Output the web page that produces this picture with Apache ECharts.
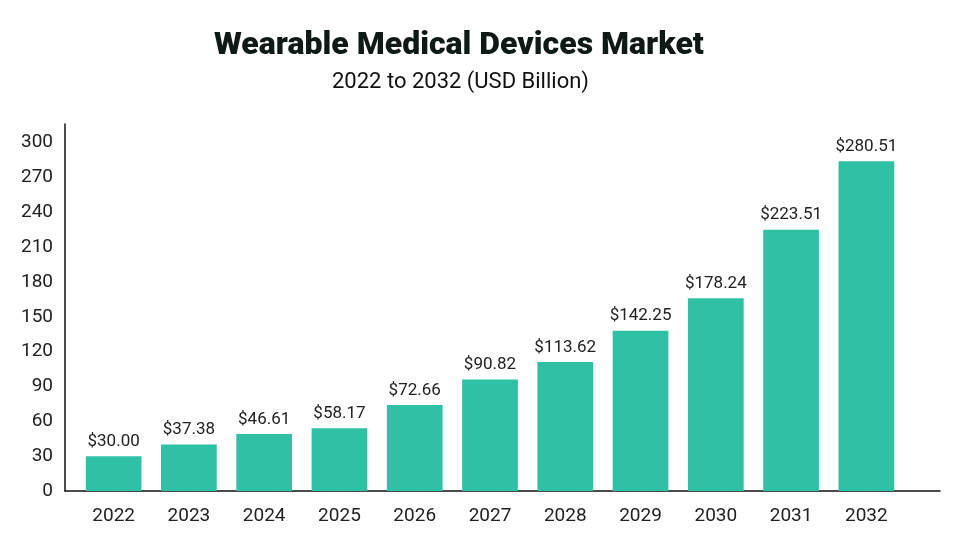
<!DOCTYPE html>
<html>
<head>
<meta charset="utf-8">
<script src="https://cdn.jsdelivr.net/npm/echarts@6/dist/echarts.min.js"></script>
<style>html,body{margin:0;padding:0;background:#fff}#c{width:960px;height:558px}</style>
</head>
<body>
<div id="c"></div>
<script>
const categories = ['2022','2023','2024','2025','2026','2027','2028','2029','2030','2031','2032'];
const barValues = [30, 40, 49, 54, 74, 96, 111, 138, 166, 225, 284];
const labelTexts = ['$30.00','$37.38','$46.61','$58.17','$72.66','$90.82','$113.62','$142.25','$178.24','$223.51','$280.51'];
const yTicks = [0, 30, 60, 90, 120, 150, 180, 210, 240, 270, 300];

const chart = echarts.init(document.getElementById('c'));
const font = 'Roboto';
const yMax = 316;
chart.setOption({
  backgroundColor: '#fff',
  animation: false,
  title: [
    { text: 'Wearable Medical Devices Market', left: 209, top: 25,
      textStyle: { fontFamily: font, fontWeight: 900, fontSize: 32, color: '#0f1a17' } },
    { text: '2022 to 2032 (USD Billion)', left: 327, top: 66,
      textStyle: { fontFamily: font, fontWeight: 400, fontSize: 22, color: '#111' } }
  ],
  grid: [
    { left: 76, right: 56, top: 124, bottom: 67 },
    { left: 65, right: 20, top: 124, bottom: 67 }
  ],
  xAxis: [
    { type: 'category', gridIndex: 0, data: categories,
      axisLine: { show: false }, axisTick: { show: false },
      axisLabel: { fontFamily: font, fontSize: 19, color: '#222', margin: 16 } },
    { type: 'value', gridIndex: 1, min: 0, max: 1,
      axisLine: { show: true, lineStyle: { color: '#111', width: 1.5 } },
      axisTick: { show: false }, axisLabel: { show: false }, splitLine: { show: false } }
  ],
  yAxis: [
    { type: 'value', gridIndex: 0, min: 0, max: yMax, interval: 30,
      axisLine: { show: false }, axisTick: { show: false },
      axisLabel: { show: false }, splitLine: { show: false } },
    { type: 'value', gridIndex: 1, min: 0, max: yMax, interval: 30,
      axisLine: { show: true, lineStyle: { color: '#111', width: 1.5 } },
      axisTick: { show: false }, splitLine: { show: false },
      axisLabel: { fontFamily: font, fontSize: 19, color: '#222', margin: 12,
        showMaxLabel: false,
        formatter: v => yTicks.indexOf(v) >= 0 ? String(v) : '' } }
  ],
  series: [{
    type: 'bar', xAxisIndex: 0, yAxisIndex: 0,
    data: barValues,
    barCategoryGap: '26%',
    itemStyle: { color: '#2EC1A4' },
    label: { show: true, position: 'top', distance: 6,
      fontFamily: font, fontSize: 17, color: '#222',
      formatter: p => labelTexts[p.dataIndex] }
  }]
});
</script>
</body>
</html>
